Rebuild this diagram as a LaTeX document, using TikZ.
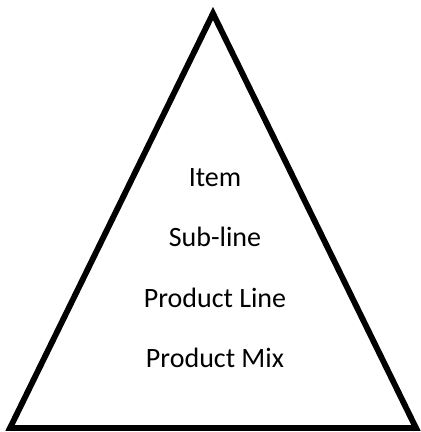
\documentclass[tikz,border=0pt]{standalone}
\usepackage{fontspec}
\setmainfont{Carlito}
\usepackage{tikz}
\usetikzlibrary{positioning}

\begin{document}
\begin{tikzpicture}[x=0.75pt,y=-0.75pt,node distance=25pt,
  tier/.style={font=\fontsize{21}{25}\selectfont,inner sep=0pt,
    text height=15pt,text depth=5pt}]
\useasboundingbox (0,0) rectangle (421,432);
\coordinate (apex) at (213,13.5);
\coordinate (bl) at (10,428);
\coordinate (br) at (416,428);
\draw[line width=4.4pt,line join=miter] (apex) -- (bl) -- (br) -- cycle;
\node[tier,anchor=base] (item) at (215,186) {Item};
\node[tier] (sub) [below=of item] {Sub-line};
\node[tier] (line) [below=of sub] {Product Line};
\node[tier] (mix) [below=of line] {Product Mix};
\end{tikzpicture}
\end{document}
